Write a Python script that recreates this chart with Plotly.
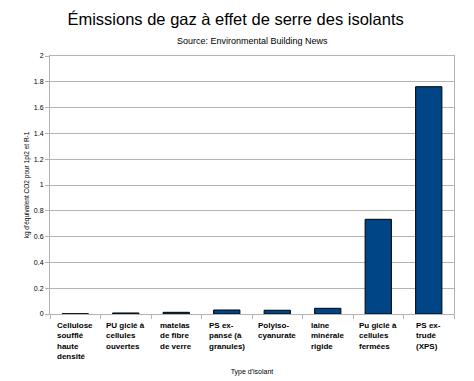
import plotly.graph_objects as go

categories = ["Cellulose soufflé haute densité", "PU giclé à cellules ouvertes",
              "matelas de fibre de verre", "PS expansé (à granules)", "Polyisocyanurate",
              "laine minérale rigide", "Pu giclé à cellules fermées", "PS extrudé (XPS)"]
category_labels = ["Cellulose<br>soufflé<br>haute<br>densité", "PU giclé à<br>cellules<br>ouvertes",
                   "matelas<br>de fibre<br>de verre", "PS ex-<br>pansé (à<br>granules)",
                   "Polyiso-<br>cyanurate", "laine<br>minérale<br>rigide",
                   "Pu giclé à<br>cellules<br>fermées", "PS ex-<br>trudé<br>(XPS)"]
values = [0.002, 0.008, 0.013, 0.031, 0.029, 0.044, 0.734, 1.762]
y_ticks = [0, 0.2, 0.4, 0.6, 0.8, 1, 1.2, 1.4, 1.6, 1.8, 2]
y_tick_text = ["0", "0.2", "0.4", "0.6", "0.8", "1", "1.2", "1.4", "1.6", "1.8", "2"]

FONT = "Liberation Sans, Arial, sans-serif"
GRID = "#b3b3b3"

fig = go.Figure()
fig.add_trace(go.Bar(
    x=categories, y=values,
    marker=dict(color="#004586", line=dict(color="#000000", width=1)),
    width=0.52,
))

annotations = []
for cat, lab in zip(categories, category_labels):
    annotations.append(dict(
        x=cat, xref="x", y=0, yref="y domain", yanchor="top", xanchor="center",
        yshift=-5, text=lab, showarrow=False, align="left",
        font=dict(family=FONT, size=8, color="#000000", weight="bold"),
    ))
annotations.append(dict(
    x=0.5, xref="paper", y=(314 - 41) / 258, yref="paper", xanchor="center", yanchor="middle",
    text="Source: Environmental Building News", showarrow=False,
    font=dict(family=FONT, size=9, color="#000000"),
))

fig.update_layout(
    width=474, height=381,
    margin=dict(l=50, r=20, t=56, b=67, autoexpand=False),
    paper_bgcolor="white", plot_bgcolor="white",
    showlegend=False,
    title=dict(text="Émissions de gaz à effet de serre des isolants",
               x=0.497, xref="container", xanchor="center",
               y=1 - 19 / 381, yref="container", yanchor="middle",
               font=dict(family=FONT, size=16.5, color="#000000")),
    annotations=annotations,
    xaxis=dict(
        type="category", showticklabels=False, tickson="boundaries",
        ticks="outside", ticklen=4, tickcolor=GRID, tickwidth=1,
        showline=True, linecolor=GRID, linewidth=1, mirror=True,
        showgrid=False, range=[-0.5, 7.5], automargin=False,
        title=dict(text="Type d'isolant", standoff=55,
                   font=dict(family=FONT, size=7, color="#000000")),
    ),
    yaxis=dict(
        range=[0, 2], tickvals=y_ticks, ticktext=y_tick_text,
        ticks="outside", ticklen=4, tickcolor=GRID, tickwidth=1,
        showline=True, linecolor=GRID, linewidth=1, mirror=True,
        showgrid=True, gridcolor=GRID, gridwidth=1, zeroline=False, automargin=False,
        tickfont=dict(family=FONT, size=7, color="#000000"),
        title=dict(text="kg d'équivalent CO2 pour 1pi2 et R-1", standoff=3,
                   font=dict(family=FONT, size=6.5, color="#000000")),
    ),
)

fig.write_html("out.html", config={"displayModeBar": False},
               post_script="document.body.style.margin='0';")
